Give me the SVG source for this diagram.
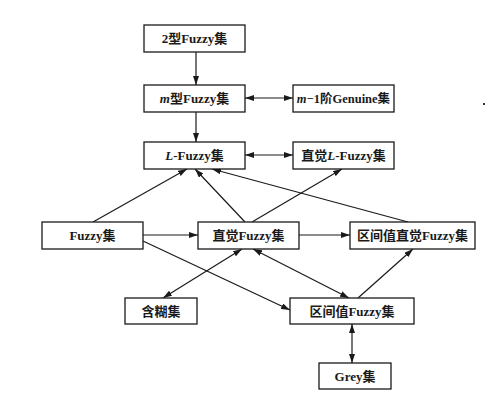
<svg xmlns="http://www.w3.org/2000/svg" width="494" height="400" viewBox="0 0 494 400">
  <style>
    .box { fill: #ffffff; stroke: #1a1a1a; stroke-width: 1.3; }
    .lbl { font-family: "Liberation Serif", "Noto Sans CJK SC", serif; font-size: 13px; font-weight: bold; fill: #1a1a1a; text-anchor: middle; }
    .it { font-style: italic; }
    .edge { fill: none; stroke: #1a1a1a; stroke-width: 1.2; }
    .one { marker-end: url(#head); }
    .two { marker-start: url(#head); marker-end: url(#head); }
  </style>
  <defs>
    <marker id="head" viewBox="0 0 9 6" refX="9" refY="3" markerWidth="9" markerHeight="6" markerUnits="userSpaceOnUse" orient="auto-start-reverse">
      <path d="M0,0 L9,3 L0,6 z" fill="#1a1a1a"/>
    </marker>
  </defs>
  <rect width="494" height="400" fill="#ffffff"/>

  <g id="connectors">
    <line class="edge one" x1="196" y1="52" x2="196" y2="85"/>
    <line class="edge two" x1="245" y1="98" x2="293" y2="98"/>
    <line class="edge one" x1="196" y1="112" x2="196" y2="142"/>
    <line class="edge two" x1="245" y1="155" x2="293" y2="155"/>
    <line class="edge one" x1="93" y1="222" x2="187" y2="169"/>
    <line class="edge one" x1="245" y1="222" x2="195" y2="169"/>
    <line class="edge one" x1="408" y1="222" x2="212" y2="169"/>
    <line class="edge one" x1="252" y1="222" x2="342" y2="169"/>
    <line class="edge one" x1="143" y1="235" x2="198" y2="235"/>
    <line class="edge one" x1="299" y1="235" x2="350" y2="235"/>
    <line class="edge one" x1="143" y1="241" x2="290" y2="310"/>
    <line class="edge two" x1="163" y1="298" x2="242" y2="249"/>
    <line class="edge two" x1="349" y1="298" x2="253" y2="249"/>
    <line class="edge one" x1="358" y1="298" x2="413" y2="249"/>
    <line class="edge two" x1="352" y1="324" x2="352" y2="363"/>
  </g>

  <g id="n-type2">
    <rect class="box" x="144" y="25" width="101" height="27"/>
    <text class="lbl" x="194.5" y="43">2型Fuzzy集</text>
  </g>
  <g id="n-typem">
    <rect class="box" x="144" y="85" width="101" height="27"/>
    <text class="lbl" x="194.5" y="103"><tspan class="it">m</tspan>型Fuzzy集</text>
  </g>
  <g id="n-genuine">
    <rect class="box" x="293" y="85" width="101" height="27"/>
    <text class="lbl" x="343.5" y="103" style="font-size:12.5px"><tspan class="it">m</tspan>−1阶Genuine集</text>
  </g>
  <g id="n-lfuzzy">
    <rect class="box" x="144" y="142" width="101" height="27"/>
    <text class="lbl" x="194.5" y="160"><tspan class="it">L</tspan>-Fuzzy集</text>
  </g>
  <g id="n-intuit-l">
    <rect class="box" x="293" y="142" width="101" height="27"/>
    <text class="lbl" x="343.5" y="160">直觉<tspan class="it">L</tspan>-Fuzzy集</text>
  </g>
  <g id="n-fuzzy">
    <rect class="box" x="42" y="222" width="101" height="27"/>
    <text class="lbl" x="92.5" y="240">Fuzzy集</text>
  </g>
  <g id="n-intuit">
    <rect class="box" x="198" y="222" width="101" height="27"/>
    <text class="lbl" x="248.5" y="240">直觉Fuzzy集</text>
  </g>
  <g id="n-iv-intuit">
    <rect class="box" x="350" y="222" width="125" height="27"/>
    <text class="lbl" x="412.5" y="240">区间值直觉Fuzzy集</text>
  </g>
  <g id="n-vague">
    <rect class="box" x="125" y="298" width="72" height="26"/>
    <text class="lbl" x="161" y="315.5">含糊集</text>
  </g>
  <g id="n-iv">
    <rect class="box" x="290" y="298" width="124" height="26"/>
    <text class="lbl" x="352" y="315.5">区间值Fuzzy集</text>
  </g>
  <g id="n-grey">
    <rect class="box" x="319" y="363" width="72" height="26"/>
    <text class="lbl" x="355" y="380.5">Grey集</text>
  </g>

  <rect x="483" y="103" width="2" height="2" fill="#333333"/>
</svg>
